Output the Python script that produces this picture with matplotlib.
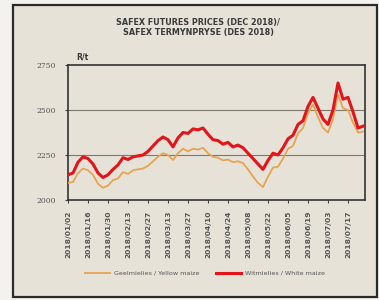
import matplotlib.pyplot as plt
from matplotlib.patches import Rectangle

# week index (half-week steps)
weeks = [i * 0.5 for i in range(60)]

white_maize = [2140, 2150, 2210, 2240, 2230, 2200, 2150, 2125, 2140, 2170,
               2195, 2235, 2225, 2240, 2245, 2250, 2270, 2300, 2330, 2350,
               2335, 2295, 2345, 2375, 2370, 2395, 2390, 2400, 2365, 2335,
               2330, 2310, 2320, 2295, 2305, 2290, 2260, 2230, 2200, 2170,
               2220, 2260, 2250, 2290, 2340, 2360, 2420, 2440, 2520, 2570,
               2510, 2450, 2420, 2500, 2650, 2560, 2570, 2490, 2400, 2410]

yellow_maize = [2095, 2100, 2150, 2175, 2165, 2140, 2090, 2068, 2080, 2110,
                2120, 2155, 2145, 2165, 2170, 2175, 2190, 2215, 2240, 2260,
                2250, 2222, 2260, 2285, 2270, 2285, 2280, 2290, 2260, 2240,
                2235, 2220, 2225, 2210, 2215, 2205, 2170, 2130, 2095, 2072,
                2130, 2180, 2185, 2230, 2285, 2300, 2370, 2400, 2480, 2530,
                2460, 2400, 2375, 2450, 2585, 2510, 2500, 2430, 2375, 2380]

tick_labels = ['2018/01/02', '2018/01/16', '2018/01/30', '2018/02/13', '2018/02/27',
               '2018/03/13', '2018/03/27', '2018/04/10', '2018/04/24', '2018/05/08',
               '2018/05/22', '2018/06/05', '2018/06/19', '2018/07/03', '2018/07/17']
y_ticks = [2000, 2250, 2500, 2750]

bg = '#e6e2d7'
fig = plt.figure(figsize=(3.79, 3.0), dpi=100)
fig.patch.set_facecolor('#f3f2ee')
fig.patches.append(Rectangle((13/379, 3/300), 364/379, 292/300, transform=fig.transFigure,
                             facecolor=bg, edgecolor='#2a2a2a', lw=1.6, zorder=-1))

ax = fig.add_axes([68/379, 100/300, 297/379, 135/300])
ax.set_zorder(2)
ax.set_facecolor('none')
ax.plot(weeks, yellow_maize, color='#e6a452', lw=1.3, label='Geelmielies / Yellow maize', zorder=3)
ax.plot(weeks, white_maize, color='#e3141a', lw=2.2, label='Witmielies / White maize', zorder=4)

ax.set_xlim(0, 29.7)
ax.set_ylim(2000, 2750)
ax.set_yticks(y_ticks)
ax.set_yticklabels([str(v) for v in y_ticks], fontsize=5.5, color='#555555', family='DejaVu Serif')
ax.set_xticks([i * 2 for i in range(len(tick_labels))])
ax.set_xticklabels(tick_labels, rotation=90, fontsize=5.4, color='#555555', fontweight='bold')
ax.tick_params(axis='both', length=2.5, width=0.8, color='#444444')
ax.tick_params(axis='x', pad=5)
ax.tick_params(axis='y', pad=6)
for v in [2250, 2500]:
    ax.axhline(v, color='#7a7a72', lw=0.8, zorder=1)
for s in ax.spines.values():
    s.set_color('#333333')
    s.set_linewidth(1.2)

fig.text(198/379, 1 - 22/300, 'SAFEX FUTURES PRICES (DEC 2018)/', ha='center', va='center',
         fontsize=5.8, fontweight='bold', color='#3a3a3a')
fig.text(198/379, 1 - 33/300, 'SAFEX TERMYNPRYSE (DES 2018)', ha='center', va='center',
         fontsize=5.8, fontweight='bold', color='#3a3a3a')
fig.text(76/379, 1 - 57/300, 'R/t', ha='left', va='center', fontsize=5.5,
         fontweight='bold', color='#3a3a3a')

fig.legend(loc='center', bbox_to_anchor=(205/379, 1 - 273/300), ncol=2, frameon=False,
           fontsize=4.6, handlelength=4, columnspacing=2.5, handletextpad=0.6,
           labelcolor='#555555')

fig.savefig('out.png', dpi=100, facecolor=fig.get_facecolor())
